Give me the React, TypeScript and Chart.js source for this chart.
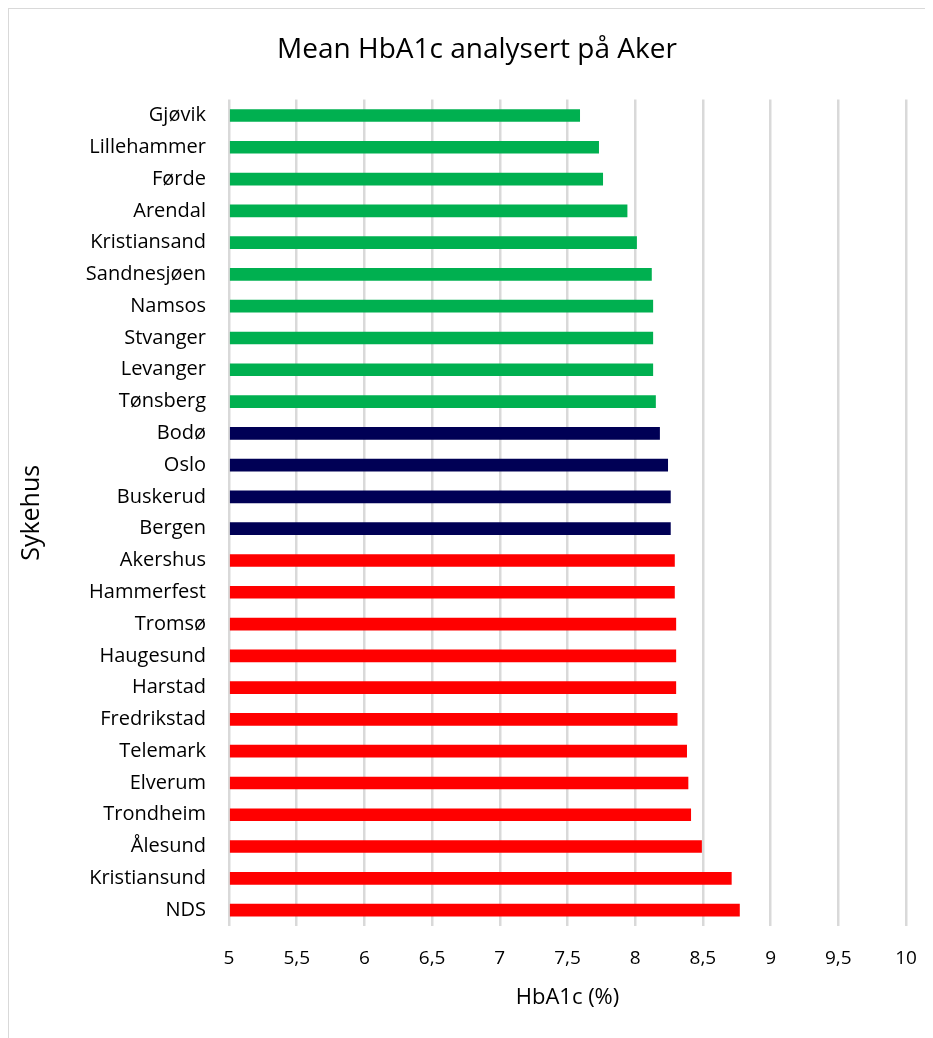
import React, { useEffect, useRef } from "react";
import { Chart, registerables } from "chart.js";

Chart.register(...registerables);

const hospitals = [
  "Gjøvik", "Lillehammer", "Førde", "Arendal", "Kristiansand", "Sandnesjøen",
  "Namsos", "Stvanger", "Levanger", "Tønsberg", "Bodø", "Oslo", "Buskerud",
  "Bergen", "Akershus", "Hammerfest", "Tromsø", "Haugesund", "Harstad",
  "Fredrikstad", "Telemark", "Elverum", "Trondheim", "Ålesund", "Kristiansund", "NDS",
];

const meanHbA1c = [
  7.59, 7.73, 7.76, 7.94, 8.01, 8.12,
  8.13, 8.13, 8.13, 8.15, 8.18, 8.24, 8.26,
  8.26, 8.29, 8.29, 8.30, 8.30, 8.30,
  8.31, 8.38, 8.39, 8.41, 8.49, 8.71, 8.77,
];

// group per hospital: "low", "mid", "high"
const groups = [
  "low", "low", "low", "low", "low", "low",
  "low", "low", "low", "low", "mid", "mid", "mid",
  "mid", "high", "high", "high", "high", "high",
  "high", "high", "high", "high", "high", "high", "high",
];

const groupColors: Record<string, string> = {
  low: "#00B050",
  mid: "#000055",
  high: "#FF0000",
};

const xTickLabels = ["5", "5,5", "6", "6,5", "7", "7,5", "8", "8,5", "9", "9,5", "10"];

const FONT = "'Open Sans', sans-serif";

export default function App() {
  const canvasRef = useRef<HTMLCanvasElement | null>(null);

  useEffect(() => {
    const canvas = canvasRef.current;
    if (!canvas) return;
    const chart = new Chart(canvas, {
      type: "bar",
      data: {
        labels: hospitals,
        datasets: [
          {
            data: meanHbA1c,
            backgroundColor: groups.map((g) => groupColors[g]),
            barThickness: 12,
            base: 5,
          },
        ],
      },
      options: {
        indexAxis: "y",
        animation: false,
        responsive: false,
        layout: { padding: 0 },
        plugins: {
          legend: { display: false },
          tooltip: { enabled: false },
          title: {
            display: true,
            text: "Mean HbA1c analysert på Aker",
            color: "#000000",
            font: { family: FONT, size: 28, weight: "normal" },
            padding: { top: 24, bottom: 33 },
          },
        },
        scales: {
          x: {
            type: "linear",
            min: 5,
            max: 10,
            afterBuildTicks: (scale: any) => {
              scale.ticks = xTickLabels.map((_, i) => ({ value: 5 + i * 0.5 }));
            },
            afterFit: (scale: any) => {
              scale.height = 112;
              scale.paddingLeft = 0;
              // room to the right of the plot area
              scale.paddingRight = 39;
            },
            ticks: {
              color: "#000000",
              font: { family: FONT, size: 19 },
              padding: 21,
              maxRotation: 0,
              autoSkip: false,
              callback: (_v: any, i: number) => xTickLabels[i],
            },
            grid: { color: "#d9d9d9", lineWidth: 2.5, drawTicks: false },
            border: { display: false },
            title: {
              display: true,
              text: "HbA1c (%)",
              color: "#000000",
              font: { family: FONT, size: 22 },
              padding: { top: 0, bottom: 27 },
            },
          },
          y: {
            afterFit: (scale: any) => {
              scale.width = 220;
            },
            ticks: {
              color: "#000000",
              font: { family: FONT, size: 20 },
              padding: 23,
              autoSkip: false,
            },
            grid: { display: false, drawTicks: false },
            border: { display: false },
            title: {
              display: true,
              text: "Sykehus",
              color: "#000000",
              font: { family: FONT, size: 25 },
              padding: { top: 8, bottom: 0 },
            },
          },
        },
      },
    });
    return () => chart.destroy();
  }, []);

  return (
    <div
      style={{
        width: 925,
        height: 1030,
        overflow: "hidden",
        borderLeft: "1px solid #d9d9d9",
        borderTop: "1px solid #d9d9d9",
        boxSizing: "border-box",
        background: "#ffffff",
      }}
    >
      <canvas ref={canvasRef} width={936} height={1029} style={{ display: "block" }} />
    </div>
  );
}
